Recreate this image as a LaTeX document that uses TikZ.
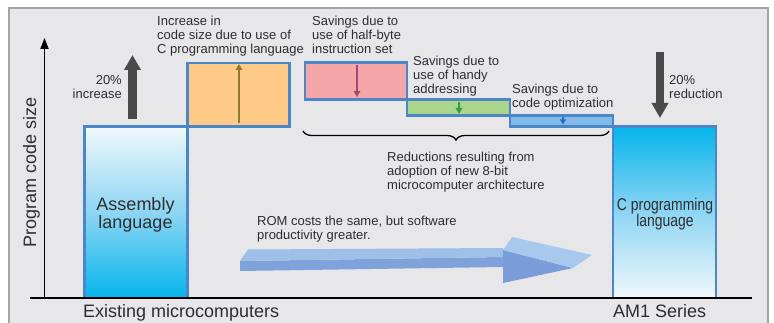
\documentclass[tikz,border=0pt]{standalone}
\usepackage{fontspec}
\setmainfont{Liberation Sans}
\usepackage{graphicx}
\usetikzlibrary{arrows.meta,decorations.pathreplacing}
\definecolor{panel}{HTML}{E7E7E9}
\definecolor{panelline}{HTML}{A4A4A6}
\definecolor{barline}{HTML}{4D86C6}
\definecolor{orangefill}{HTML}{FDCA87}
\definecolor{pinkfill}{HTML}{F5A6A9}
\definecolor{greenfill}{HTML}{A9D68A}
\definecolor{bluefill}{HTML}{82BAEA}
\definecolor{cyanfull}{HTML}{05B5EC}
\definecolor{cyanmid}{HTML}{8ED5F3}
\definecolor{cyanlight}{HTML}{F0F8FC}
\definecolor{txt}{HTML}{2E2E2E}
\definecolor{biggray}{HTML}{4A4A4A}
\definecolor{olivearr}{HTML}{8C7A2E}
\definecolor{maroonarr}{HTML}{A8486A}
\definecolor{greenarr}{HTML}{3A9A4A}
\definecolor{bluearr}{HTML}{2A70B8}
\definecolor{shafttop}{HTML}{9EBFE8}
\definecolor{shaftfront}{HTML}{7FA2DA}
\definecolor{headtop}{HTML}{A8C8EE}
\definecolor{headfront}{HTML}{7A9DD9}
\begin{document}
\begin{tikzpicture}[x=1pt,y=-1pt,
  bar/.style={draw=barline, line width=2.5pt, inner sep=0pt, outer sep=0pt, anchor=north west},
  lbl/.style={font=\fontsize{13}{14}\selectfont, inner sep=0pt, text=txt, align=left},
  biglbl/.style={font=\fontsize{18}{16}\selectfont, inner sep=0pt, text=txt},
  grayarrow/.style={draw=biggray, line width=8.5pt, -{Triangle[length=15pt,width=16pt]}},
  inarrow/.style={line width=1.8pt, -{Triangle[length=6pt,width=6.5pt]}},
  axisline/.style={line width=1.8pt, draw=black}
]
\useasboundingbox (0,0) rectangle (774,323);
\fill[white] (0,0) rectangle (774,323);
\draw[draw=panelline, line width=1.5pt, fill=panel] (9,8) rectangle (768,340);

% bars
\node[bar, top color=cyanlight, bottom color=cyanfull, middle color=cyanmid, minimum width=103pt, minimum height=171.5pt] (asm) at (84.5,126.5) {};
\node[bar, top color=cyanfull, bottom color=cyanlight, middle color=cyanmid, minimum width=103pt, minimum height=171.5pt] (cbox) at (613,126.5) {};
\node[bar, fill=orangefill, minimum width=102pt, minimum height=63.5pt] (orange) at (187.5,63) {};
\node[bar, fill=pinkfill, minimum width=102pt, minimum height=37pt] (pink) at (305,62.5) {};
\node[bar, fill=greenfill, minimum width=103pt, minimum height=16pt] (green) at (407,99.5) {};
\node[bar, fill=bluefill, minimum width=103pt, minimum height=11pt] (blue) at (510,115.5) {};

% arrows inside bars
\coordinate (oa) at (239,123); \coordinate (ob) at (239,64);
\draw[inarrow, olivearr] (oa) -- (ob);
\coordinate (pa) at (357,65); \coordinate (pb) at (357,97);
\draw[inarrow, maroonarr] (pa) -- (pb);
\coordinate (ga) at (459,102); \coordinate (gb) at (459,114);
\draw[inarrow, greenarr] (ga) -- (gb);
\coordinate (ba) at (563,117.5); \coordinate (bb) at (563,124.5);
\draw[inarrow, line width=1.5pt, -{Triangle[length=5pt,width=6pt]}, bluearr] (ba) -- (bb);

% axes
\coordinate (yo) at (44.5,298); \coordinate (ytip) at (44.5,38);
\draw[axisline, -{Triangle[length=11pt,width=8pt]}] (yo) -- (ytip);
\coordinate (xl) at (30,298); \coordinate (xr) at (752,298);
\draw[axisline] (xl) -- (xr);

% big gray arrows
\coordinate (ua) at (132.5,119); \coordinate (ub) at (132.5,55);
\draw[grayarrow] (ua) -- (ub);
\coordinate (da) at (660,52); \coordinate (db) at (660,118);
\draw[grayarrow] (da) -- (db);

% brace
\coordinate (brl) at (303,131); \coordinate (brr) at (609,131);
\draw[decorate, decoration={brace, mirror, amplitude=9pt}, line width=1.3pt] (brl) -- (brr);

% 3D arrow
\fill[shaftfront] (240,261) -- (503,257) -- (503,267) -- (240,271) -- cycle;
\fill[shafttop] (240,261) -- (248,249.5) -- (503,248) -- (503,257) -- cycle;
\fill[headfront] (503,250) -- (573,268) -- (503,283) -- cycle;
\fill[headtop] (503,250) -- (512,237) -- (592,255) -- (573,268) -- cycle;

% texts
\node[lbl, anchor=north west] (t1) at (157,16) {Increase in\\code size due to use of\\C programming language};
\node[lbl, anchor=north west] (t2) at (312,15.5) {Savings due to\\use of half-byte\\instruction set};
\node[lbl, anchor=north west] (t3) at (413,56) {Savings due to\\use of handy\\addressing};
\node[lbl, anchor=north west] (t4) at (512,84) {Savings due to\\code optimization};
\node[lbl, anchor=north east, align=right] (t5) at (122,75) {20\%\\increase};
\node[lbl, anchor=north west] (t6) at (669,75) {20\%\\reduction};
\node[lbl, anchor=north west] (t7) at (387,152) {Reductions resulting from\\adoption of new 8-bit\\microcomputer architecture};
\node[lbl, anchor=north west] (t8) at (257,216) {ROM costs the same, but software\\productivity greater.};
\node[biglbl, anchor=base west] (t9) at (83,317) {Existing microcomputers};
\node[biglbl, anchor=base west] (t10) at (613,317) {AM1 Series};
\node[biglbl, anchor=north, align=center, text=txt] (t11) at (135.5,197.5) {Assembly\\language};
\node[inner sep=0pt, anchor=north, text=txt] (t12) at (665,197.5) {\fontsize{17}{15}\selectfont\scalebox{0.82}[1]{\begin{tabular}{@{}c@{}}C programming\\language\end{tabular}}};
\node[biglbl, rotate=90] (t13) at (31.5,172) {Program code size};
\end{tikzpicture}
\end{document}
